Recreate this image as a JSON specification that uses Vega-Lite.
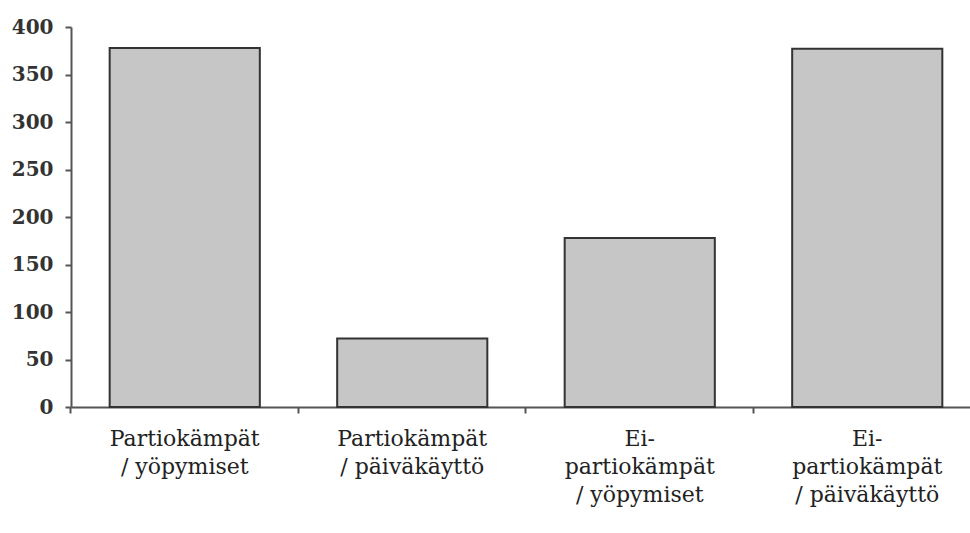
{
  "$schema": "https://vega.github.io/schema/vega-lite/v6.json",
  "width": 899,
  "height": 380,
  "autosize": "none",
  "padding": {"left": 71, "top": 27, "right": 0, "bottom": 126},
  "background": "white",
  "data": {
    "values": [
      {"kategoria": "Partiokämpät|/ yöpymiset", "arvo": 378},
      {"kategoria": "Partiokämpät|/ päiväkäyttö", "arvo": 72},
      {"kategoria": "Ei-|partiokämpät|/ yöpymiset", "arvo": 178},
      {"kategoria": "Ei-|partiokämpät|/ päiväkäyttö", "arvo": 377}
    ]
  },
  "config": {
    "view": {"stroke": null},
    "axis": {"labelFont": "DejaVu Serif", "domainColor": "#555555", "tickColor": "#555555", "domainWidth": 2, "tickWidth": 2, "grid": false}
  },
  "mark": {"type": "bar", "fill": "#c6c6c6", "stroke": "#333333", "strokeWidth": 2},
  "encoding": {
    "x": {
      "field": "kategoria",
      "type": "nominal",
      "sort": null,
      "scale": {"paddingInner": 0.34, "paddingOuter": 0.17, "range": [0, 910]},
      "axis": {
        "title": null,
        "labelAngle": 0,
        "labelExpr": "split(datum.label, '|')",
        "labelFontSize": 22,
        "labelLineHeight": 28,
        "labelColor": "#222222",
        "labelPadding": 15,
        "labelLimit": 300,
        "bandPosition": -0.2576,
        "tickSize": 6
      }
    },
    "y": {
      "field": "arvo",
      "type": "quantitative",
      "scale": {"domain": [0, 400]},
      "axis": {
        "title": null,
        "values": [0, 50, 100, 150, 200, 250, 300, 350, 400],
        "labelFontSize": 20,
        "labelFontWeight": "bold",
        "labelColor": "#333333",
        "labelPadding": 12,
        "tickSize": 6
      }
    }
  }
}
